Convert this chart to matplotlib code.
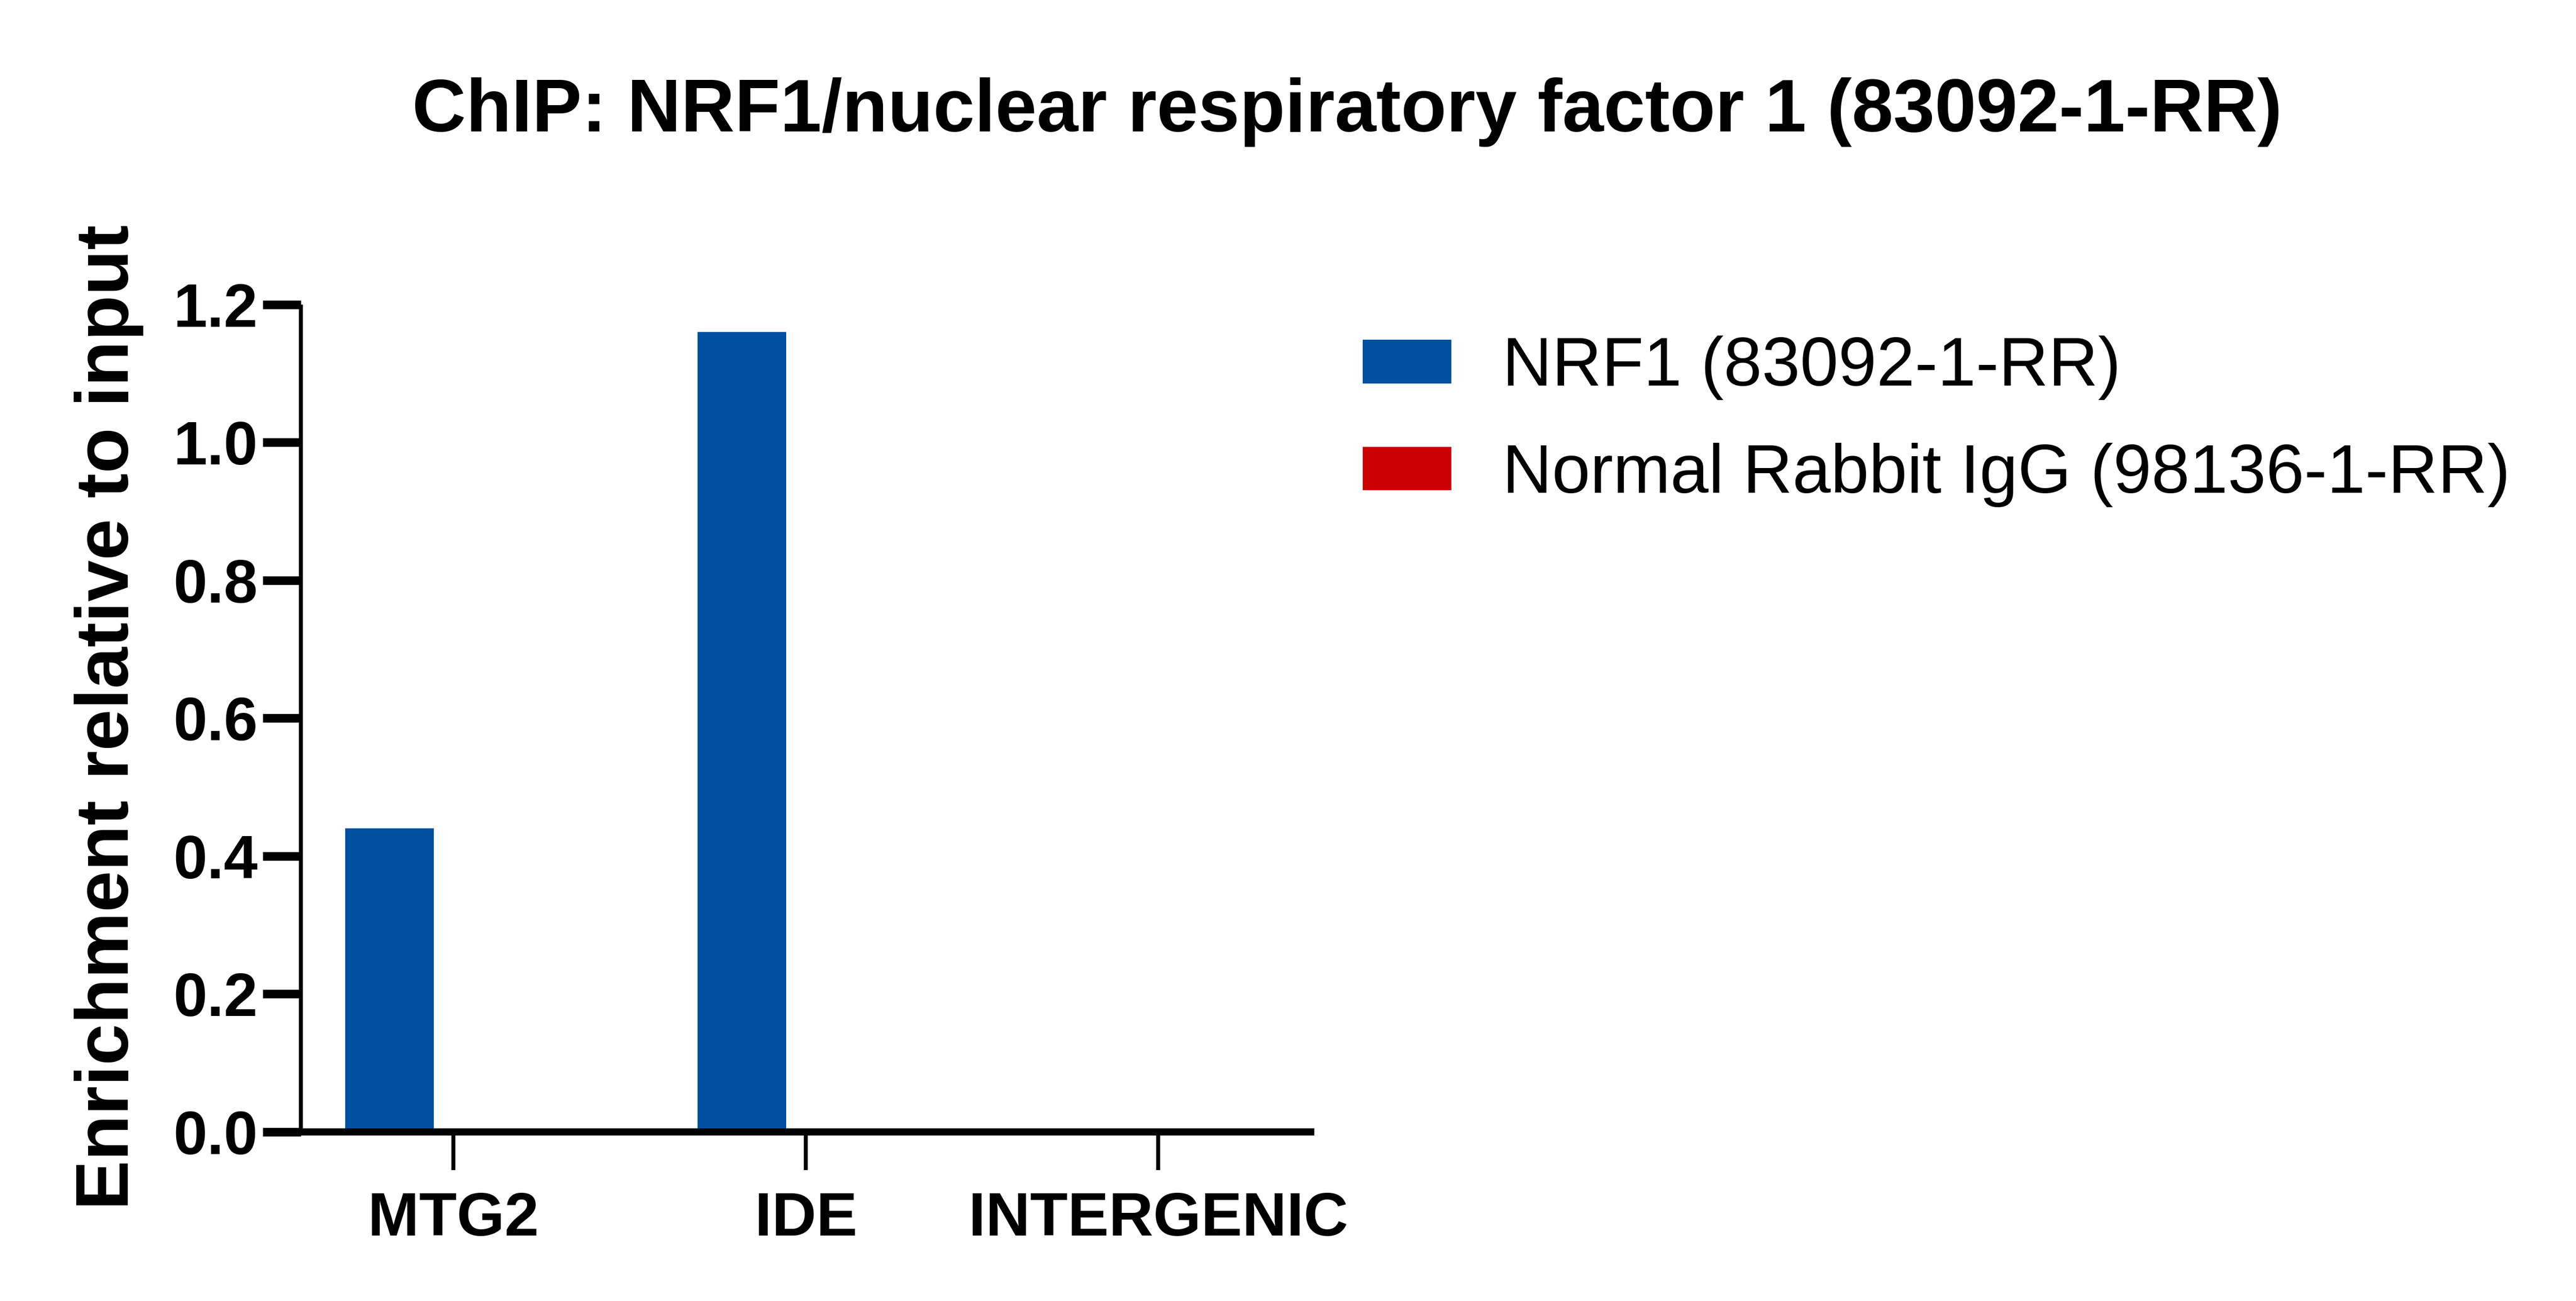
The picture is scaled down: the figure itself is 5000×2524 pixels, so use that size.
import matplotlib
matplotlib.use('Agg')
import numpy as np
import matplotlib.pyplot as plt

plt.rcParams['font.family'] = ['Liberation Sans', 'DejaVu Sans']

# data
categories = ['MTG2', 'IDE', 'INTERGENIC']
nrf1 = [0.44, 1.16, 0.0]
igg = [0.0, 0.0, 0.0]
series_names = ['NRF1 (83092-1-RR)', 'Normal Rabbit IgG (98136-1-RR)']
yticks = [0.0, 0.2, 0.4, 0.6, 0.8, 1.0, 1.2]
title = 'ChIP: NRF1/nuclear respiratory factor 1 (83092-1-RR)'
ylabel = 'Enrichment relative to input'

blue = '#0050A0'
red = '#CC0000'

fig = plt.figure(figsize=(50, 25.24), dpi=100)
ax = fig.add_axes([0.1167, 0.130, 0.3935, 0.636])

x = np.arange(len(categories))
w = 0.252
off = 0.182
b1 = ax.bar(x - off, nrf1, w, color=blue, linewidth=0, label=series_names[0])
b2 = ax.bar(x + off, igg, w, color=red, linewidth=0, label=series_names[1])

ax.set_xlim(-0.434, 2.443)
ax.set_ylim(0, 1.2)
ax.set_yticks(yticks)
ax.set_yticklabels(['%.1f' % v for v in yticks])
ax.set_xticks(x)
ax.set_xticklabels(categories)

for s in ['top', 'right']:
    ax.spines[s].set_visible(False)
ax.spines['left'].set_linewidth(5.5)
ax.spines['bottom'].set_linewidth(10)
ax.spines['left'].set_capstyle('butt')
ax.spines['bottom'].set_capstyle('butt')

ax.tick_params(axis='y', length=53, width=12, pad=7, labelsize=85)
ax.tick_params(axis='x', length=53, width=5.5, pad=30, labelsize=86)
for lab in ax.get_xticklabels() + ax.get_yticklabels():
    lab.set_fontweight('bold')

ax.set_ylabel(ylabel, fontsize=104, fontweight='bold')
ax.yaxis.set_label_coords(-0.155, 0.501)

fig.text(0.523, 0.899, title, ha='center', va='baseline',
         fontsize=104, fontweight='bold')

ax.legend(handles=[b1, b2], loc='upper left', bbox_to_anchor=(0.529, 0.742),
          bbox_transform=fig.transFigure, frameon=False, fontsize=96,
          borderpad=0, borderaxespad=0, handlelength=1.29, handleheight=0.6,
          handletextpad=0.74, labelspacing=0.62)

fig.savefig('out.png', dpi=100)
